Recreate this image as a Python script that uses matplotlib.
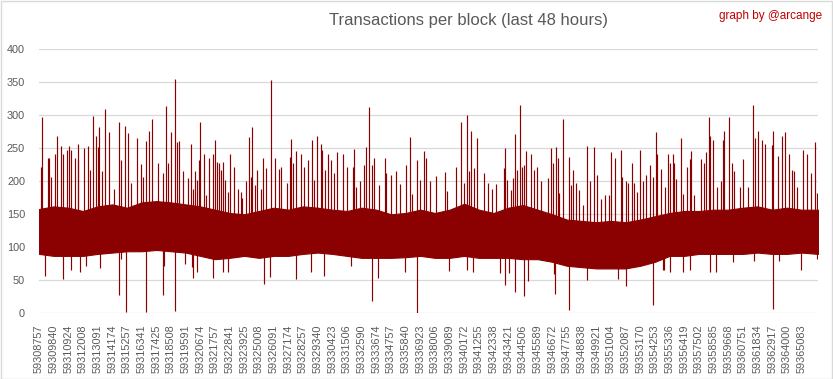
import numpy as np
import matplotlib.pyplot as plt
from matplotlib.patches import Rectangle

plt.rcParams['font.family'] = ['Liberation Sans', 'DejaVu Sans']

first_block = 59308757
last_block = 59366300

tick_blocks = [59308757, 59309840, 59310924, 59312008, 59313091, 59314174, 59315257,
               59316341, 59317425, 59318508, 59319591, 59320674, 59321757, 59322841,
               59323925, 59325008, 59326091, 59327174, 59328257, 59329340, 59330423,
               59331506, 59332590, 59333674, 59334757, 59335840, 59336923, 59338006,
               59339089, 59340172, 59341255, 59342338, 59343421, 59344506, 59345589,
               59346672, 59347755, 59348838, 59349921, 59351004, 59352087, 59353170,
               59354253, 59355336, 59356419, 59357502, 59358585, 59359668, 59360751,
               59361834, 59362917, 59364000, 59365083]

# dense core of the series (upper / lower edge), read at each label + the last block
band_blocks = tick_blocks + [last_block]
band_hi = [158, 162, 160, 155, 162, 165, 160, 168, 170, 168, 165, 162, 157, 152, 150,
           155, 160, 157, 162, 160, 157, 155, 160, 157, 150, 152, 157, 152, 157, 166,
           157, 152, 160, 164, 157, 150, 142, 140, 138, 140, 138, 142, 147, 152, 155,
           155, 157, 157, 160, 162, 157, 160, 157, 157]
band_lo = [90, 87, 87, 87, 90, 92, 94, 94, 96, 94, 92, 87, 82, 84, 87, 84, 87, 87,
           90, 92, 90, 87, 84, 84, 84, 85, 87, 84, 84, 87, 84, 84, 84, 82, 82, 78,
           72, 70, 68, 68, 68, 72, 78, 87, 87, 90, 90, 90, 90, 92, 90, 90, 92, 90]

# peaks above the core (offset from first block, transactions)
up_off = [170, 244, 643, 761, 909, 1204, 1352, 1648, 1795, 2046, 2239, 2386, 2660,
          2859, 2904, 3347, 3642, 3790, 4012, 4189, 4337, 4455, 4654, 4898, 5194,
          5541, 5888, 6080, 6376, 6597, 6775, 7218, 7514, 7661, 7905, 8149, 8348,
          8792, 9139, 9405, 9553, 9774, 10026, 10173, 10365, 10661, 11030, 11208,
          11400, 11548, 11695, 11799, 11917, 12213, 12360, 12582, 12877, 13025,
          13173, 13320, 13468, 13616, 13720, 13986, 14134, 14429, 14702, 14902,
          15020, 15316, 15537, 15641, 15759, 15981, 16128, 16424, 16571, 16793,
          17163, 17414, 17754, 17901, 18344, 18522, 18640, 18788, 18987, 19379,
          19578, 19896, 20191, 20317, 20561, 20812, 20930, 21107, 21351, 21551,
          21795, 22038, 22482, 22777, 23221, 23294, 23442, 23738, 24033, 24181,
          24403, 24625, 24772, 25142, 25585, 25659, 26028, 26398, 26693, 27137,
          27432, 27580, 27949, 28171, 28467, 28614, 28910, 29353, 30018, 30166,
          30831, 31200, 31422, 31644, 31791, 31939, 32161, 32382, 32899, 33195,
          33490, 33786, 34377, 34451, 34599, 34894, 35042, 35190, 35337, 35559,
          35707, 35854, 36002, 36371, 36593, 36815, 37110, 37628, 37849, 37997,
          38219, 38322, 38440, 38735, 39179, 39326, 39474, 39696, 39917, 40213,
          40508, 40730, 41026, 41247, 41498, 41838, 42134, 42282, 42577, 43020,
          43094, 43390, 43538, 43833, 43981, 44203, 44424, 44646, 44868, 45163,
          45385, 45607, 45680, 45976, 46271, 46493, 46641, 46862, 46936, 47084,
          47453, 47601, 47897, 48118, 48192, 48414, 48931, 49153, 49300, 49522,
          49596, 49818, 50113, 50409, 50557, 50631, 51000, 51222, 51370, 51813,
          52035, 52404, 52774, 52921, 53143, 53438, 53660, 54177, 54251, 54621,
          54916, 55138, 55434, 55655, 55803, 56025, 56468, 56764, 57059, 57355, 57502]
up_val = [222, 298, 235, 235, 207, 241, 269, 253, 242, 247, 253, 247, 235,
          257, 232, 250, 253, 217, 299, 269, 252, 282, 215, 309, 274,
          189, 290, 233, 284, 273, 197, 265, 226, 206, 261, 276, 294,
          227, 212, 314, 227, 274, 355, 259, 261, 216, 205, 256,
          189, 215, 202, 232, 290, 241, 179, 235, 242, 262,
          230, 227, 217, 230, 202, 184, 241, 221, 188, 184,
          174, 200, 267, 206, 282, 194, 217, 189, 235, 220,
          353, 235, 218, 222, 197, 237, 264, 227, 246, 242,
          222, 232, 262, 202, 268, 257, 247, 217, 241, 232,
          212, 245, 241, 222, 221, 249, 192, 200, 225, 252,
          312, 225, 235, 195, 236, 212, 209, 215, 196, 225,
          267, 181, 232, 202, 246, 236, 200, 208, 214, 186,
          221, 290, 197, 300, 215, 276, 220, 265, 212, 197,
          189, 196, 220, 250, 202, 187, 205, 271, 217, 316,
          222, 225, 246, 242, 217, 222, 200, 205, 250, 227,
          252, 236, 182, 294, 237, 194, 217, 197, 187, 164,
          254, 201, 252, 210, 173, 179, 179, 245, 235, 247,
          207, 200, 197, 227, 197, 184, 247, 200, 210, 225,
          207, 274, 242, 218, 192, 241, 227, 241, 228, 203,
          265, 181, 221, 234, 246, 179, 234, 227, 244, 297,
          269, 263, 192, 200, 262, 276, 297, 227, 215, 192,
          234, 192, 316, 265, 276, 263, 257, 255, 276, 238,
          269, 275, 242, 217, 216, 192, 247, 241, 212, 260, 183]

# drops below the core
down_off = [465, 1795, 2386, 3051, 3495, 4529, 5932, 6080, 6450, 7927, 9139, 9257,
            10026, 10809, 11282, 11400, 11695, 12877, 13616, 13941, 16645, 17089,
            19009, 20117, 21078, 23029, 24625, 25068, 27063, 27949, 30314, 31644,
            32087, 34082, 34451, 34747, 35190, 35854, 36150, 38071, 38145, 39179,
            40508, 42799, 43390, 45385, 46124, 46197, 46641, 47601, 48118, 49596,
            50039, 51296, 52848, 54251, 54695, 56320, 57502]
down_val = [57, 52, 66, 63, 71, 68, 27, 82, 2, 2, 27, 71,
            3, 75, 70, 53, 62, 53, 63, 62, 45, 55,
            52, 62, 56, 71, 18, 53, 63, 1, 64, 65,
            62, 61, 43, 61, 33, 26, 49, 60, 30, 5,
            50, 52, 42, 13, 66, 65, 63, 62, 66, 63,
            62, 77, 80, 6, 80, 65, 83]

red = '#8B0000'
grey = '#595959'

fig = plt.figure(figsize=(8.33, 3.79), dpi=100)
ax = fig.add_axes([39 / 833, 1 - 313.3 / 379, 779 / 833, 264 / 379])

ax.fill_between(band_blocks, band_lo, band_hi, color=red, lw=0.8, zorder=3)
ax.vlines(np.array(up_off) + first_block, 120, up_val, color=red, lw=0.85, zorder=3)
ax.vlines(np.array(down_off) + first_block, 120, down_val, color=red, lw=0.85, zorder=3)

ax.set_xlim(first_block, last_block)
ax.set_ylim(0, 400)
ax.set_yticks(range(0, 401, 50))
ax.set_xticks(tick_blocks)
ax.set_xticklabels([str(b) for b in tick_blocks], rotation=90)
ax.grid(axis='y', color='#d9d9d9', lw=0.9, zorder=0)
ax.set_axisbelow(True)
for s in ax.spines.values():
    s.set_visible(False)
ax.tick_params(axis='both', length=0, colors=grey, labelsize=7.8)
ax.tick_params(axis='x', pad=8)
ax.tick_params(axis='y', pad=10)

fig.text(0.562, 1 - 20 / 379, 'Transactions per block (last 48 hours)', ha='center',
         va='center', fontsize=12, color=grey)
fig.text(822 / 833, 1 - 16 / 379, 'graph by @arcange', ha='right', va='center',
         fontsize=8.5, color='#C00000')

fig.patches.append(Rectangle((0.5 / 833, 0.5 / 379), 1 - 1.5 / 833, 1 - 1.5 / 379,
                             transform=fig.transFigure, fill=False,
                             edgecolor='#d9d9d9', lw=1))

fig.savefig('out.png', dpi=100)
